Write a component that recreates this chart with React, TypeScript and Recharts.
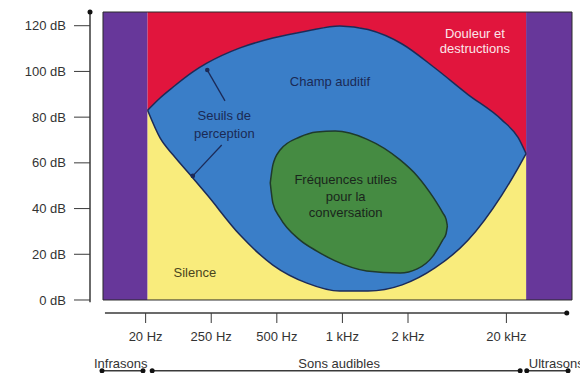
import React from 'react';
import {
  ComposedChart,
  Area,
  XAxis,
  YAxis,
  ReferenceArea,
  ReferenceLine,
  ReferenceDot,
} from 'recharts';

const FONT = 'Liberation Sans, Arial, Helvetica, sans-serif';

// Axis ticks (schematic frequency axis: ordinal positions)
const freqTicks = [1, 2, 3, 4, 5, 6.5];
const freqLabels = ['20 Hz', '250 Hz', '500 Hz', '1 kHz', '2 kHz', '20 kHz'];
const dbTicks = [0, 20, 40, 60, 80, 100, 120];

// Zones under the axis
const zonePos = [0.62, 3.95, 7.26];
const zoneLabels = ['Infrasons', 'Sons audibles', 'Ultrasons'];
const zoneArrows = [
  [0.335, 0.96],
  [1.1, 6.71],
  [6.81, 7.44],
];

// Bands
const infraBand = [0.35, 1.03];
const ultraBand = [6.8, 7.5];
const levelRange = [0, 126];

// Champ auditif (hearing field)
const fieldFreq = [1.03, 1.22, 1.42, 1.72, 1.94, 2.44, 2.94, 3.46, 3.96, 4.39, 4.91, 5.41, 5.91, 6.43, 6.68, 6.8];
const painThreshold = [83, 88.4, 93.2, 99.8, 103.7, 110.3, 114.6, 117.7, 119.9, 118.3, 112, 101.5, 90, 78.8, 71, 64];
const hearingThreshold = [83, 70.9, 63.4, 53.4, 45.9, 28.4, 15.3, 7.4, 3.9, 3.9, 6.6, 14, 26, 45.9, 57.8, 64];

// Speech zone
const speechFreq = [2.9, 2.94, 3.05, 3.35, 3.61, 3.89, 4.37, 4.88, 5.14, 5.38, 5.53, 5.58, 5.6];
const speechHigh = [51.2, 59.1, 65.6, 71.3, 73.5, 73.9, 70.4, 61.3, 54.3, 45.1, 38.1, 35.4, 32.4];
const speechLow = [51.2, 42.4, 35.9, 26.3, 21.4, 17.1, 12.7, 11.8, 13.6, 19.2, 26.3, 29, 32.4];

// Texts
const fieldText = ['Champ auditif'];
const painText = ['Douleur et', 'destructions'];
const thresholdText = ['Seuils de', 'perception'];
const speechText = ['Fréquences utiles', 'pour la', 'conversation'];
const silenceText = ['Silence'];

const fieldData = fieldFreq.map((f, i) => ({
  f,
  silence: [0, hearingThreshold[i]],
  pain: [painThreshold[i], levelRange[1]],
  field: [hearingThreshold[i], painThreshold[i]],
}));
const speechData = speechFreq.map((f, i) => ({ f, speech: [speechLow[i], speechHigh[i]] }));

const makeText = (lines: string[], color: string, size: number, spacing: number) => (p: any) => {
  const { cx, cy } = p;
  const n = lines.length;
  return (
    <text textAnchor="middle" fill={color} fontSize={size} fontFamily={FONT}>
      {lines.map((l, i) => (
        <tspan key={i} x={cx} y={cy + (i - (n - 1) / 2) * spacing + size * 0.35}>
          {l}
        </tspan>
      ))}
    </text>
  );
};

const AX = '#3a3a3a';
const OUT = '#1c2b58';

export default function App() {
  return (
    <div style={{ width: 580, height: 365 }}>
      <ComposedChart width={580} height={365} margin={{ top: 4, right: 16, bottom: 0, left: 0 }}>
        <XAxis
          type="number"
          dataKey="f"
          domain={[0.152, 7.5]}
          allowDataOverflow
          ticks={freqTicks}
          interval={0}
          tickFormatter={(v: number) => freqLabels[freqTicks.indexOf(v)]}
          axisLine={false}
          tickSize={10}
          tickMargin={9}
          height={60}
          stroke={AX}
          tick={{ fill: '#333', fontSize: 13, fontFamily: FONT }}
        />
        <YAxis
          type="number"
          domain={[-5.69, 126]}
          allowDataOverflow
          ticks={dbTicks}
          interval={0}
          tickFormatter={(v: number) => `${v} dB`}
          axisLine={false}
          tickSize={16}
          tickMargin={8}
          width={82}
          stroke={AX}
          tick={{ fill: '#333', fontSize: 13, fontFamily: FONT }}
        />

        <ReferenceArea x1={infraBand[0]} x2={infraBand[1]} y1={levelRange[0]} y2={levelRange[1]} fill="#67379a" fillOpacity={1} stroke="none" />
        <ReferenceArea x1={ultraBand[0]} x2={ultraBand[1]} y1={levelRange[0]} y2={levelRange[1]} fill="#67379a" fillOpacity={1} stroke="none" />

        <Area data={fieldData} dataKey="silence" type="monotone" fill="#f9ec7c" fillOpacity={1} stroke="none" isAnimationActive={false} />
        <Area data={fieldData} dataKey="pain" type="monotone" fill="#e1153d" fillOpacity={1} stroke="none" isAnimationActive={false} />
        <Area data={fieldData} dataKey="field" type="monotone" fill="#3a7ec8" fillOpacity={1} stroke={OUT} strokeWidth={1.5} isAnimationActive={false} />
        <Area data={speechData} dataKey="speech" type="monotone" fill="#458b42" fillOpacity={1} stroke="#1f3a2c" strokeWidth={1.5} isAnimationActive={false} />

        <ReferenceArea x1={infraBand[0]} x2={ultraBand[1]} y1={levelRange[0]} y2={levelRange[1]} fill="none" stroke="#2a2a2a" strokeWidth={1} />

        {/* axis lines */}
        <ReferenceLine segment={[{ x: 0.152, y: -1 }, { x: 0.152, y: levelRange[1] }]} stroke={AX} strokeWidth={1.5} ifOverflow="visible" />
        <ReferenceDot x={0.152} y={levelRange[1]} r={2.5} fill="#111" stroke="none" ifOverflow="visible" />
        <ReferenceLine segment={[{ x: 0.38, y: -5.69 }, { x: 7.42, y: -5.69 }]} stroke={AX} strokeWidth={1.5} ifOverflow="visible" />
        <ReferenceDot x={7.42} y={-5.69} r={2.5} fill="#111" stroke="none" ifOverflow="visible" />

        {/* zone arrows and labels */}
        {zoneArrows.map(([a, b]) => (
          <ReferenceLine key={`l${a}`} segment={[{ x: a, y: -31 }, { x: b, y: -31 }]} stroke={AX} strokeWidth={1.5} ifOverflow="visible" />
        ))}
        {zoneArrows.flat().map((x) => (
          <ReferenceDot key={`d${x}`} x={x} y={-31} r={2.5} fill="#111" stroke="none" ifOverflow="visible" />
        ))}
        {zonePos.map((x, i) => (
          <ReferenceDot key={`z${x}`} x={x} y={-27.6} r={0} ifOverflow="visible" shape={makeText([zoneLabels[i]], '#333', 13, 15)} />
        ))}

        {/* perception threshold pointers */}
        <ReferenceLine segment={[{ x: 2.21, y: 87.1 }, { x: 1.94, y: 100.6 }]} stroke={OUT} strokeWidth={1.3} />
        <ReferenceDot x={1.94} y={100.6} r={2.3} fill={OUT} stroke="none" />
        <ReferenceLine segment={[{ x: 2.16, y: 67.8 }, { x: 1.72, y: 54.3 }]} stroke={OUT} strokeWidth={1.3} />
        <ReferenceDot x={1.72} y={54.3} r={2.3} fill={OUT} stroke="none" />

        {/* labels */}
        <ReferenceDot x={3.81} y={95.4} r={0} shape={makeText(fieldText, '#1b2a55', 13, 15)} />
        <ReferenceDot x={6.02} y={113.5} r={0} shape={makeText(painText, '#fbe6ea', 13, 15)} />
        <ReferenceDot x={2.2} y={76.6} r={0} shape={makeText(thresholdText, '#1b2a55', 13, 18)} />
        <ReferenceDot x={4.05} y={45.5} r={0} shape={makeText(speechText, '#1a261c', 13, 16.5)} />
        <ReferenceDot x={1.75} y={12.25} r={0} shape={makeText(silenceText, '#4a4520', 13, 15)} />
      </ComposedChart>
    </div>
  );
}
